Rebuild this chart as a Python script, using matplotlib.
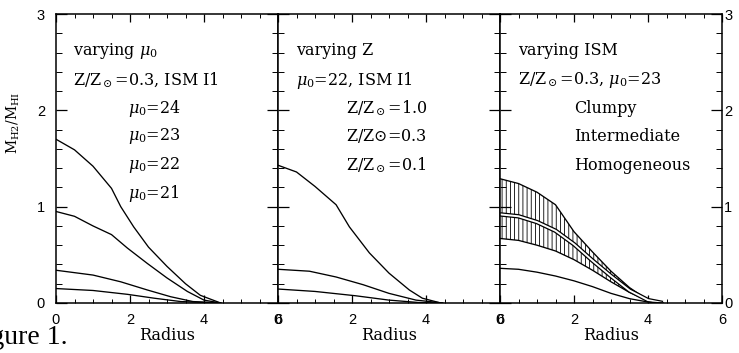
import matplotlib
matplotlib.use("Agg")
import matplotlib.pyplot as plt
from matplotlib.ticker import MultipleLocator
import numpy as np

plt.rcParams['mathtext.fontset'] = 'dejavuserif'
plt.rcParams['hatch.linewidth'] = 0.6

# ---- data: left panel (varying mu0) ----
x_mu21 = [0, 0.5, 1.0, 1.5, 1.75, 2.1, 2.5, 3.0, 3.5, 3.9, 4.45]
y_mu21 = [1.70, 1.59, 1.42, 1.19, 1.00, 0.79, 0.58, 0.38, 0.20, 0.08, 0.0]
x_mu22 = [0, 0.5, 1.0, 1.5, 1.93, 2.47, 3.0, 3.55, 4.0, 4.45]
y_mu22 = [0.95, 0.90, 0.80, 0.71, 0.57, 0.41, 0.26, 0.12, 0.03, 0.0]
x_mu23 = [0, 1.0, 1.75, 2.47, 3.1, 3.7, 4.45]
y_mu23 = [0.34, 0.29, 0.22, 0.135, 0.065, 0.015, 0.0]
x_mu24 = [0, 1.0, 1.93, 2.65, 3.37, 4.45]
y_mu24 = [0.15, 0.13, 0.09, 0.05, 0.015, 0.0]

# ---- data: middle panel (varying Z) ----
x_z10 = [0, 0.5, 1.0, 1.57, 1.93, 2.47, 3.0, 3.55, 3.9, 4.4]
y_z10 = [1.43, 1.36, 1.21, 1.02, 0.79, 0.52, 0.31, 0.135, 0.05, 0.0]
x_z03 = [0, 0.85, 1.57, 2.3, 3.0, 3.73, 4.45]
y_z03 = [0.35, 0.33, 0.27, 0.19, 0.10, 0.03, 0.0]
x_z01 = [0, 1.0, 2.1, 3.0, 3.8, 4.45]
y_z01 = [0.145, 0.12, 0.075, 0.03, 0.005, 0.0]

# ---- data: right panel (varying ISM) ----
x_ism = [0, 0.5, 1.0, 1.5, 2.0, 2.5, 3.0, 3.5, 4.0, 4.4]
y_clumpy = [1.29, 1.24, 1.15, 1.02, 0.74, 0.53, 0.33, 0.16, 0.03, 0.0]
y_inter = [0.92, 0.90, 0.84, 0.75, 0.61, 0.44, 0.28, 0.13, 0.03, 0.0]
y_homog = [0.67, 0.65, 0.60, 0.54, 0.45, 0.34, 0.22, 0.11, 0.025, 0.0]
y_ref = [0.36, 0.35, 0.32, 0.28, 0.23, 0.17, 0.10, 0.045, 0.01, 0.0]

xticks = [0, 2, 4, 6]
yticks = [0, 1, 2, 3]

left_texts = ["varying $\\mu_0$", "Z/Z$_\\odot$=0.3, ISM I1"]
left_labels = ["$\\mu_0$=24", "$\\mu_0$=23", "$\\mu_0$=22", "$\\mu_0$=21"]
mid_texts = ["varying Z", "$\\mu_0$=22, ISM I1"]
mid_labels = ["Z/Z$_\\odot$=1.0", "Z/Z$\\odot$=0.3", "Z/Z$_\\odot$=0.1"]
right_texts = ["varying ISM", "Z/Z$_\\odot$=0.3, $\\mu_0$=23"]
right_labels = ["Clumpy", "Intermediate", "Homogeneous"]

W, H = 739, 353
fig = plt.figure(figsize=(W / 100, H / 100), dpi=100)

x0 = 56 / W
x1 = 722 / W
pw = (x1 - x0) / 3
bot = 1 - 303 / H
top = 1 - 14 / H
axes = [fig.add_axes([x0 + i * pw, bot, pw, top - bot]) for i in range(3)]

serif = "DejaVu Serif"
tfs = 11.5
lw = 0.95

for i, ax in enumerate(axes):
    ax.set_xlim(0, 6)
    ax.set_ylim(0, 3)
    ax.set_xticks(xticks)
    ax.set_yticks(yticks)
    ax.xaxis.set_minor_locator(MultipleLocator(0.5))
    ax.yaxis.set_minor_locator(MultipleLocator(0.2))
    for s in ax.spines.values():
        s.set_linewidth(1.1)
    ax.tick_params(axis='x', which='major', direction='in', top=True, bottom=True,
                   length=6, width=0.9, pad=7, labelsize=10.5,
                   labelfontfamily='Liberation Sans')
    ax.tick_params(axis='x', which='minor', direction='in', top=True, bottom=True,
                   length=3, width=0.7)
    ax.tick_params(axis='y', which='major', direction='in', left=True, right=True,
                   length=8, width=0.9, labelsize=10.5,
                   labelfontfamily='Liberation Sans')
    ax.tick_params(axis='y', which='minor', direction='in', left=True, right=True,
                   length=4.5, width=0.7)
    ax.set_xlabel("Radius", family=serif, fontsize=11.5, labelpad=0)
    if i == 0:
        ax.tick_params(axis='y', labelleft=True, labelright=False, pad=8)
    elif i == 1:
        ax.tick_params(axis='y', labelleft=False, labelright=False)
    else:
        ax.tick_params(axis='y', labelleft=False, labelright=True, pad=1.5)

row_y = [2.62, 2.31, 2.02, 1.73, 1.43, 1.14]

# left panel
a = axes[0]
a.plot(x_mu21, y_mu21, color='black', lw=lw)
a.plot(x_mu22, y_mu22, color='black', lw=lw)
a.plot(x_mu23, y_mu23, color='black', lw=lw)
a.plot(x_mu24, y_mu24, color='black', lw=lw)
for k, t in enumerate(left_texts):
    a.text(0.45, row_y[k], t, family=serif, fontsize=tfs, va='center')
for k, t in enumerate(left_labels):
    a.text(1.95, row_y[k + 2], t, family=serif, fontsize=tfs, va='center')

# middle panel
a = axes[1]
a.plot(x_z10, y_z10, color='black', lw=lw)
a.plot(x_z03, y_z03, color='black', lw=lw)
a.plot(x_z01, y_z01, color='black', lw=lw)
for k, t in enumerate(mid_texts):
    a.text(0.5, row_y[k], t, family=serif, fontsize=tfs, va='center')
for k, t in enumerate(mid_labels):
    a.text(1.85, row_y[k + 2], t, family=serif, fontsize=tfs, va='center')

# right panel
a = axes[2]
a.fill_between(x_ism, y_homog, y_clumpy, facecolor='none', edgecolor='black',
               hatch='||||', linewidth=0)
a.plot(x_ism, y_clumpy, color='black', lw=lw)
a.plot(x_ism, y_homog, color='black', lw=lw)
a.plot(x_ism, y_inter, color='black', lw=3.2, solid_capstyle='butt')
a.plot(x_ism, y_inter, color='white', lw=1.4, solid_capstyle='butt')
a.plot(x_ism, y_ref, color='black', lw=lw)
for k, t in enumerate(right_texts):
    a.text(0.5, row_y[k], t, family=serif, fontsize=tfs, va='center')
for k, t in enumerate(right_labels):
    a.text(2.0, row_y[k + 2], t, family=serif, fontsize=tfs, va='center')

fig.text(13 / W, 1 - 123 / H, "M$_{\\rm H2}$/M$_{\\rm HI}$", rotation=90,
         family=serif, fontsize=10, ha='center', va='center')

fig.text(68 / W, 1 - 338 / H, "Figure 1.", family="Liberation Serif",
         fontsize=20, ha='right', va='center')

fig.savefig("out.png", dpi=100)
